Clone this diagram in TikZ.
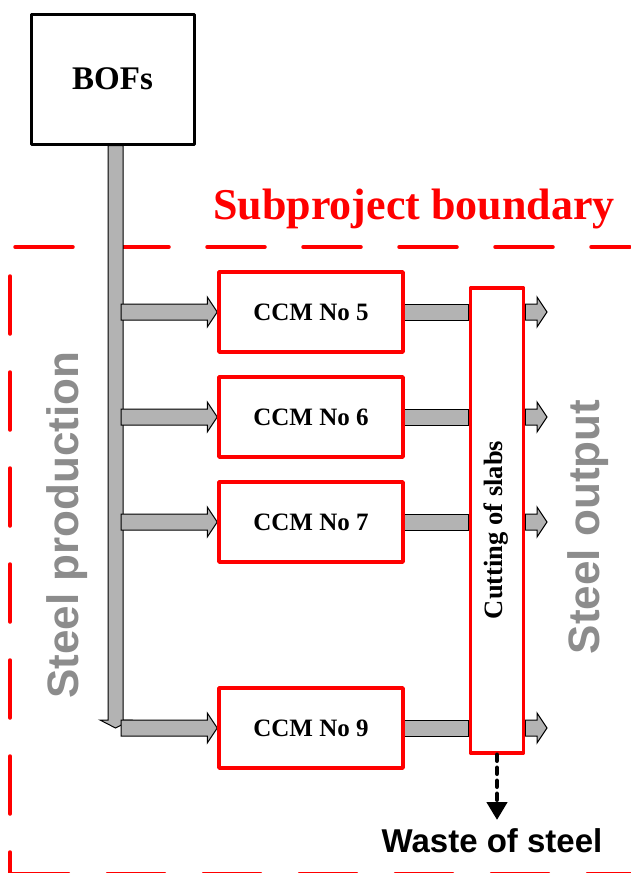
\documentclass[tikz,border=0pt]{standalone}
\usepackage{fontspec}
\newfontfamily\tnr{Liberation Serif}
\newfontfamily\arial{Liberation Sans}
\usetikzlibrary{arrows.meta,calc,backgrounds}
\definecolor{txtgray}{RGB}{140,140,140}
\definecolor{arrgray}{RGB}{179,179,179}
\definecolor{bred}{RGB}{255,0,0}
\newcommand\blockarr[2]{\filldraw[blk] let \p1=(#1), \p2=(#2) in (\x1,\y2-8pt) -- (\x2-10pt,\y2-8pt) -- (\x2-10pt,\y2-15pt) -- (\x2,\y2) -- (\x2-10pt,\y2+15pt) -- (\x2-10pt,\y2+8pt) -- (\x1,\y2+8pt) -- cycle;}
\newcommand\blockbar[2]{\filldraw[blk] let \p1=(#1), \p2=(#2) in (\x1,\y1-8pt) rectangle (\x2,\y1+8pt);}
\begin{document}
\begin{tikzpicture}[x=1pt,y=-1pt,
  box/.style={draw=bred,line width=3.5pt,fill=white,minimum width=184pt,minimum height=80pt,inner sep=0pt,line join=round,font={\tnr\bfseries\fontsize{25}{25}\selectfont}},
  blk/.style={fill=arrgray,draw=black,line width=1pt,line join=miter},
  bnd/.style={draw=bred,line width=3.5pt,line cap=round,dash pattern=on 58pt off 38pt},
  bigsans/.style={text=txtgray,font={\arial\bfseries\fontsize{44}{44}\selectfont}}
]
\useasboundingbox (0,0) rectangle (630,873);

\node[draw=black,line width=3pt,fill=white,minimum width=163pt,minimum height=130pt,inner sep=0pt,line join=round,font={\tnr\bfseries\fontsize{33}{33}\selectfont}] (bof) at (112.5,79) {BOFs};

\node[box] (c5) at (311,312) {CCM No 5};
\node[box] (c6) at (311,417) {CCM No 6};
\node[box] (c7) at (311,522) {CCM No 7};
\node[box] (c9) at (311,728) {CCM No 9};

\node[draw=bred,line width=3.5pt,fill=white,minimum width=53pt,minimum height=465pt,inner sep=0pt,line join=round] (cut) at (497,520.5) {};
\node[rotate=90,font={\tnr\bfseries\fontsize{26.5}{26.5}\selectfont}] (cuttxt) at (496,530) {Cutting of slabs};

\node[text=bred,anchor=base,font={\tnr\bfseries\fontsize{44}{44}\selectfont}] (sub) at (414,219) {Subproject boundary};
\node[bigsans,rotate=90] (sp) at (67,525) {Steel production};
\node[bigsans,rotate=90] (so) at (588,527) {Steel output};
\node[font={\arial\bfseries\fontsize{33}{33}\selectfont}] (waste) at (492,841) {Waste of steel};

\coordinate (bartip) at (115.5,728);
\coordinate (barR) at (121,0);
\coordinate (outx) at (547,0);
\coordinate (wtip) at (497,820);

\draw[line width=4.5pt,dash pattern=on 6pt off 7pt,line cap=round,-{Triangle[width=20pt,length=18pt]}] (cut.south) -- (wtip);

\begin{pgfonlayer}{background}
\draw[bnd] (15,247) -- (630,247);
\draw[bnd] (10,276) -- (10,873);
\draw[bnd] (11,873.5) -- (640,873.5);
\filldraw[blk] let \p1=(bof.south), \p2=(bartip) in (\x2-7.5pt,\y1) -- (\x2-7.5pt,\y2+8pt) -- (\x2-15.5pt,\y2+8pt) -- (\x2,\y2) -- (\x2+15.5pt,\y2+8pt) -- (\x2+7.5pt,\y2+8pt) -- (\x2+7.5pt,\y1) -- cycle;
\blockarr{barR}{c5.west}
\blockarr{barR}{c6.west}
\blockarr{barR}{c7.west}
\blockarr{barR}{c9.west}
\blockbar{c5.east}{cut.west}
\blockbar{c6.east}{cut.west}
\blockbar{c7.east}{cut.west}
\blockbar{c9.east}{cut.west}
\blockarr{cut.east}{outx |- c5.east}
\blockarr{cut.east}{outx |- c6.east}
\blockarr{cut.east}{outx |- c7.east}
\blockarr{cut.east}{outx |- c9.east}
\end{pgfonlayer}
\end{tikzpicture}
\end{document}
